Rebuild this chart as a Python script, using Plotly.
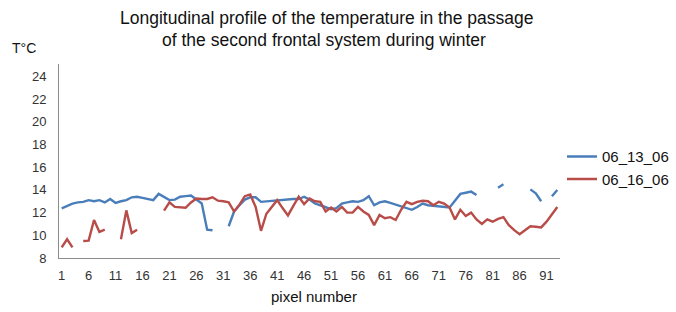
import plotly.graph_objects as go

pixels = list(range(1, 94))

s_06_13_06 = [
    12.38, 12.6, 12.8, 12.9, 12.95, 13.1, 13.0, 13.1, 12.9, 13.2,
    12.85, 13.0, 13.1, 13.35, 13.4, 13.3, 13.2, 13.1, 13.65, 13.4,
    13.1, 13.15, 13.4, 13.45, 13.5, 13.15, 12.8, 10.5, 10.45, None,
    None, 10.8, 12.1, 12.65, 13.15, 13.35, 13.35, 12.95, 13.0, 13.0,
    13.05, 13.1, 13.2, 13.2, 13.2, 13.4, 13.15, 12.8, 12.65, 12.5,
    12.3, 12.4, 12.8, 12.9, 13.0, 12.95, 13.1, 13.45, 12.65, 12.9,
    13.0, 12.85, 12.7, 12.6, 12.4, 12.25, 12.5, 12.8, 12.65, 12.6,
    12.5, 12.5, 12.45, 13.05, 13.65, 13.75, 13.85, 13.55, None, None,
    None, 14.2, 14.5, None, None, None, None, 14.05, 13.7, 13.0,
    None, 13.45, 14.0,
]

s_06_16_06 = [
    8.94, 9.65, 8.94, None, 9.5, 9.53, 11.35, 10.3, 10.5, None,
    None, 9.65, 12.2, 10.2, 10.5, None, None, None, None, 12.17,
    12.9, 12.5, 12.45, 12.43, 12.9, 13.25, 13.2, 13.2, 13.35, 13.05,
    13.0, 12.9, 12.1, 12.7, 13.45, 13.6, 12.5, 10.4, 11.9, 12.5,
    13.1, 12.4, 11.75, 12.6, 13.4, 12.75, 13.25, 13.0, 12.95, 12.1,
    12.45, 12.1, 12.5, 12.0, 12.0, 12.5, 12.1, 11.8, 10.9, 11.8,
    11.5, 11.6, 11.35, 12.25, 12.95, 12.75, 12.95, 13.05, 13.0, 12.65,
    12.95, 12.8, 12.45, 11.4, 12.25, 11.7, 12.0, 11.4, 11.0, 11.4,
    11.2, 11.45, 11.6, 10.9, 10.45, 10.1, 10.45, 10.8, 10.75, 10.7,
    11.2, 11.9, 12.5,
]

x_tick_vals = list(range(1, 94, 5))
y_tick_vals = list(range(8, 25, 2))

title_lines = [
    "Longitudinal profile of the temperature in the passage",
    "of the second frontal system during winter",
]

FONT = "Liberation Sans, Arial, sans-serif"

fig = go.Figure()
fig.add_trace(go.Scatter(
    x=pixels, y=s_06_13_06, mode="lines", name="06_13_06",
    line=dict(color="#4A7EBB", width=2.4), connectgaps=False,
    legendgroup="a",
))
fig.add_trace(go.Scatter(
    x=pixels, y=s_06_16_06, mode="lines", name="06_16_06",
    line=dict(color="#B84C48", width=2.4), connectgaps=False,
    legendgroup="b",
))

PW, PH = 501, 194  # plot area size in px

annotations = [
    dict(text=title_lines[0], xref="paper", yref="paper",
         x=(326 - 59) / PW, y=(258 - 18) / PH, xanchor="center", yanchor="middle",
         showarrow=False, font=dict(size=17.5, color="#111111", family=FONT)),
    dict(text=title_lines[1], xref="paper", yref="paper",
         x=(324 - 59) / PW, y=(258 - 40) / PH, xanchor="center", yanchor="middle",
         showarrow=False, font=dict(size=17.5, color="#111111", family=FONT)),
    dict(text="T°C", xref="paper", yref="paper", x=(10 - 59) / PW, y=(258 - 48) / PH,
         xanchor="left", yanchor="middle", showarrow=False,
         font=dict(size=14, color="#111111", family=FONT)),
    dict(text="pixel number", xref="paper", yref="paper", x=(314 - 59) / PW,
         y=(258 - 296) / PH, xanchor="center", yanchor="middle", showarrow=False,
         font=dict(size=15, color="#111111", family=FONT)),
]

fig.update_layout(
    width=676, height=312,
    margin=dict(l=59, r=116, t=64, b=54, autoexpand=False),
    paper_bgcolor="white", plot_bgcolor="white",
    font=dict(family=FONT, color="#222222"),
    showlegend=True,
    legend=dict(
        x=1.004, xanchor="left", y=0.465, yanchor="middle",
        font=dict(size=15, color="#111111", family=FONT),
        tracegroupgap=0, traceorder="grouped",
        bgcolor="rgba(0,0,0,0)",
    ),
    xaxis=dict(
        range=[0.5, 93.5], tickmode="array", tickvals=x_tick_vals,
        showgrid=False, zeroline=False, showline=True,
        linecolor="#8C8C8C", linewidth=1,
        ticks="outside", ticklen=5, tickcolor="rgba(0,0,0,0)",
        tickfont=dict(size=13, color="#333333"),
    ),
    yaxis=dict(
        range=[8, 25.1], tickmode="array", tickvals=y_tick_vals,
        showgrid=False, zeroline=False, showline=True,
        linecolor="#8C8C8C", linewidth=1,
        ticks="outside", ticklen=9, tickcolor="rgba(0,0,0,0)",
        tickfont=dict(size=13, color="#333333"),
    ),
    annotations=annotations,
)

fig.write_html(
    "out.html",
    config={"displayModeBar": False},
    post_script="document.body.style.margin='0';document.body.style.overflow='hidden';",
)
